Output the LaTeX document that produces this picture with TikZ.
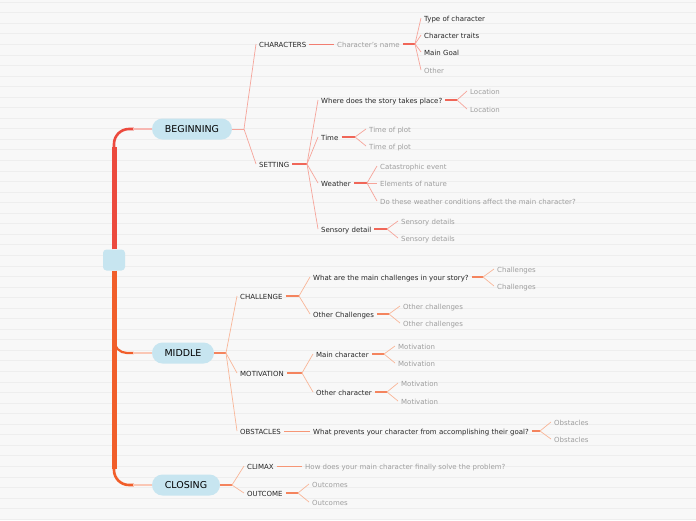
\documentclass[tikz,border=0pt]{standalone}
\usepackage{fontspec}
\setmainfont{DejaVu Sans}
\usetikzlibrary{calc,positioning}
\definecolor{paper}{RGB}{248,248,248}
\definecolor{ruling}{RGB}{238,238,238}
\definecolor{capsule}{RGB}{199,229,240}
\definecolor{trunkred}{RGB}{236,74,62}
\definecolor{trunkorange}{RGB}{241,94,42}
\definecolor{linkred}{RGB}{246,164,154}
\definecolor{stubred}{RGB}{240,102,88}
\definecolor{linkorange}{RGB}{248,182,152}
\definecolor{stuborange}{RGB}{244,132,94}
\definecolor{inktext}{RGB}{38,38,38}
\definecolor{greytext}{RGB}{158,158,158}

\begin{document}
\begin{tikzpicture}[x=1pt, y=-1pt,
    every node/.style={font=\fontsize{7}{8}\selectfont, inner xsep=3pt, inner ysep=1pt,
      text height=9pt, text depth=1.4pt, anchor=west, text=inktext},
    leaf/.style={text=greytext},
    part/.style={fill=capsule, rounded corners=10.5pt, minimum height=21pt, inner xsep=0pt,
      anchor=center, font=\fontsize{9.5}{10}\selectfont, text height=7pt, text depth=0pt, text=black},
    linkB/.style={draw=linkred, line width=0.7pt},
    stubB/.style={draw=stubred, line width=1.2pt},
    passB/.style={draw=stubred!85, line width=1pt},
    linkM/.style={draw=linkorange, line width=0.7pt},
    stubM/.style={draw=stuborange, line width=1.2pt},
    passM/.style={draw=stuborange!85, line width=1pt}]
  \useasboundingbox (0,0) rectangle (696,520);
  \fill[paper] (0,0) rectangle (696,520);
  \foreach \k in {0,...,49}
    \draw[ruling, line width=0.45pt] (0,{2+10.55*\k}) -- (696,{2+10.55*\k});

  % main parts
  \node[part, minimum width=22pt, rounded corners=3.5pt] (root) at (114,260) {};
  \node[part, minimum width=80pt] (begin) at (192,129) {BEGINNING};
  \node[part, minimum width=62pt] (middle) at (183,353) {MIDDLE};
  \node[part, minimum width=68pt] (closing) at (186,485) {CLOSING};

  % trunk
  \draw[trunkred, line width=5pt] (root.north) -- ($(begin.west -| root.north)+(0,18)$);
  \draw[trunkred, line width=2.6pt, rounded corners=15pt] ($(begin.west -| root.north)+(0,20)$) |- ($(begin.west)+(-18,0)$);
  \draw[trunkred!40, line width=1.6pt] ($(begin.west)+(-19,0)$) -- (begin.west);
  \draw[trunkorange, line width=5pt] (root.south) -- ($(closing.west -| root.south)+(0,-16)$);
  \draw[trunkorange, line width=2.2pt, rounded corners=13pt] ($(middle.west -| root.south)+(0,-16)$) |- ($(middle.west)+(-18,0)$);
  \draw[trunkorange!35, line width=1.6pt] ($(middle.west)+(-19,0)$) -- (middle.west);
  \draw[trunkorange, line width=2.6pt, rounded corners=15pt] ($(closing.west -| root.south)+(0,-18)$) |- ($(closing.west)+(-18,0)$);
  \draw[trunkorange!35, line width=1.6pt] ($(closing.west)+(-19,0)$) -- (closing.west);

  % BEGINNING
  \node (chars) at (256,44) {CHARACTERS};
  \node (setting) at (256,164) {SETTING};
  \node[leaf] (cname) at (334,44) {Character's name};
  \node (ctype) at (421,18) {Type of character};
  \node (ctraits) at (421,35) {Character traits};
  \node (cgoal) at (421,52) {Main Goal};
  \node[leaf] (cother) at (421,70) {Other};
  \node (where) at (318,100) {Where does the story takes place?};
  \node (time) at (318,137) {Time};
  \node (weather) at (318,183) {Weather};
  \node (sense) at (318,229) {Sensory detail};
  \node[leaf] (loca) at (467,91) {Location};
  \node[leaf] (locb) at (467,109) {Location};
  \node[leaf] (plota) at (366,129) {Time of plot};
  \node[leaf] (plotb) at (366,146) {Time of plot};
  \node[leaf] (cata) at (377,166) {Catastrophic event};
  \node[leaf] (nature) at (377,183) {Elements of nature};
  \node[leaf] (affect) at (377,201) {Do these weather conditions affect the main character?};
  \node[leaf] (senda) at (398,221) {Sensory details};
  \node[leaf] (sendb) at (398,238) {Sensory details};

  \coordinate (fbegin) at (244,129);
  \coordinate (fcname) at (415,44);
  \coordinate (fsetting) at (307,164);
  \coordinate (fwhere) at (457,100);
  \coordinate (ftime) at (355,137);
  \coordinate (fweather) at (367,183);
  \coordinate (fsense) at (387,229);

  \draw[linkB, line width=1pt] (begin.east) -- (fbegin);
  \foreach \c in {chars,setting} \draw[linkB] (fbegin) -- (\c.west);
  \draw[passB] (chars.east) -- (cname.west);
  \draw[stubB] (cname.east) -- (fcname);
  \foreach \c in {ctype,ctraits,cgoal,cother} \draw[linkB] (fcname) -- (\c.west);
  \draw[stubB] (setting.east) -- (fsetting);
  \foreach \c in {where,time,weather,sense} \draw[linkB] (fsetting) -- (\c.west);
  \draw[stubB] (where.east) -- (fwhere);
  \foreach \c in {loca,locb} \draw[linkB] (fwhere) -- (\c.west);
  \draw[stubB] (time.east) -- (ftime);
  \foreach \c in {plota,plotb} \draw[linkB] (ftime) -- (\c.west);
  \draw[stubB] (weather.east) -- (fweather);
  \foreach \c in {cata,nature,affect} \draw[linkB] (fweather) -- (\c.west);
  \draw[stubB] (sense.east) -- (fsense);
  \foreach \c in {senda,sendb} \draw[linkB] (fsense) -- (\c.west);

  % MIDDLE
  \node (chal) at (237,296) {CHALLENGE};
  \node (motiv) at (237,373) {MOTIVATION};
  \node (obst) at (237,431) {OBSTACLES};
  \node (mainq) at (310,277) {What are the main challenges in your story?};
  \node (otherq) at (310,314) {Other Challenges};
  \node[leaf] (chala) at (494,269) {Challenges};
  \node[leaf] (chalb) at (494,286) {Challenges};
  \node[leaf] (otha) at (400,306) {Other challenges};
  \node[leaf] (othb) at (400,323) {Other challenges};
  \node (mainc) at (313,354) {Main character};
  \node (otherc) at (313,392) {Other character};
  \node[leaf] (mota) at (395,346) {Motivation};
  \node[leaf] (motb) at (395,363) {Motivation};
  \node[leaf] (motc) at (398,383) {Motivation};
  \node[leaf] (motd) at (398,401) {Motivation};
  \node (prevq) at (310,431) {What prevents your character from accomplishing their goal?};
  \node[leaf] (obsa) at (551,422) {Obstacles};
  \node[leaf] (obsb) at (551,439) {Obstacles};

  \coordinate (fmiddle) at (226,353);
  \coordinate (fchal) at (299,296);
  \coordinate (fmainq) at (483,277);
  \coordinate (fotherq) at (389,314);
  \coordinate (fmotiv) at (302,373);
  \coordinate (fmainc) at (384,354);
  \coordinate (fotherc) at (387,392);
  \coordinate (fprevq) at (540,431);

  \draw[stubM] (middle.east) -- (fmiddle);
  \foreach \c in {chal,motiv,obst} \draw[linkM] (fmiddle) -- (\c.west);
  \draw[stubM] (chal.east) -- (fchal);
  \foreach \c in {mainq,otherq} \draw[linkM] (fchal) -- (\c.west);
  \draw[stubM] (mainq.east) -- (fmainq);
  \foreach \c in {chala,chalb} \draw[linkM] (fmainq) -- (\c.west);
  \draw[stubM] (otherq.east) -- (fotherq);
  \foreach \c in {otha,othb} \draw[linkM] (fotherq) -- (\c.west);
  \draw[stubM] (motiv.east) -- (fmotiv);
  \foreach \c in {mainc,otherc} \draw[linkM] (fmotiv) -- (\c.west);
  \draw[stubM] (mainc.east) -- (fmainc);
  \foreach \c in {mota,motb} \draw[linkM] (fmainc) -- (\c.west);
  \draw[stubM] (otherc.east) -- (fotherc);
  \foreach \c in {motc,motd} \draw[linkM] (fotherc) -- (\c.west);
  \draw[passM] (obst.east) -- (prevq.west);
  \draw[stubM] (prevq.east) -- (fprevq);
  \foreach \c in {obsa,obsb} \draw[linkM] (fprevq) -- (\c.west);

  % CLOSING
  \node (climax) at (244,466) {CLIMAX};
  \node (outcome) at (244,493) {OUTCOME};
  \node[leaf] (solve) at (302,466) {How does your main character finally solve the problem?};
  \node[leaf] (outa) at (309,484) {Outcomes};
  \node[leaf] (outb) at (309,502) {Outcomes};

  \coordinate (fclosing) at (232,485);
  \coordinate (foutcome) at (298,493);

  \draw[stubM] (closing.east) -- (fclosing);
  \foreach \c in {climax,outcome} \draw[linkM] (fclosing) -- (\c.west);
  \draw[passM] (climax.east) -- (solve.west);
  \draw[stubM] (outcome.east) -- (foutcome);
  \foreach \c in {outa,outb} \draw[linkM] (foutcome) -- (\c.west);
\end{tikzpicture}
\end{document}
